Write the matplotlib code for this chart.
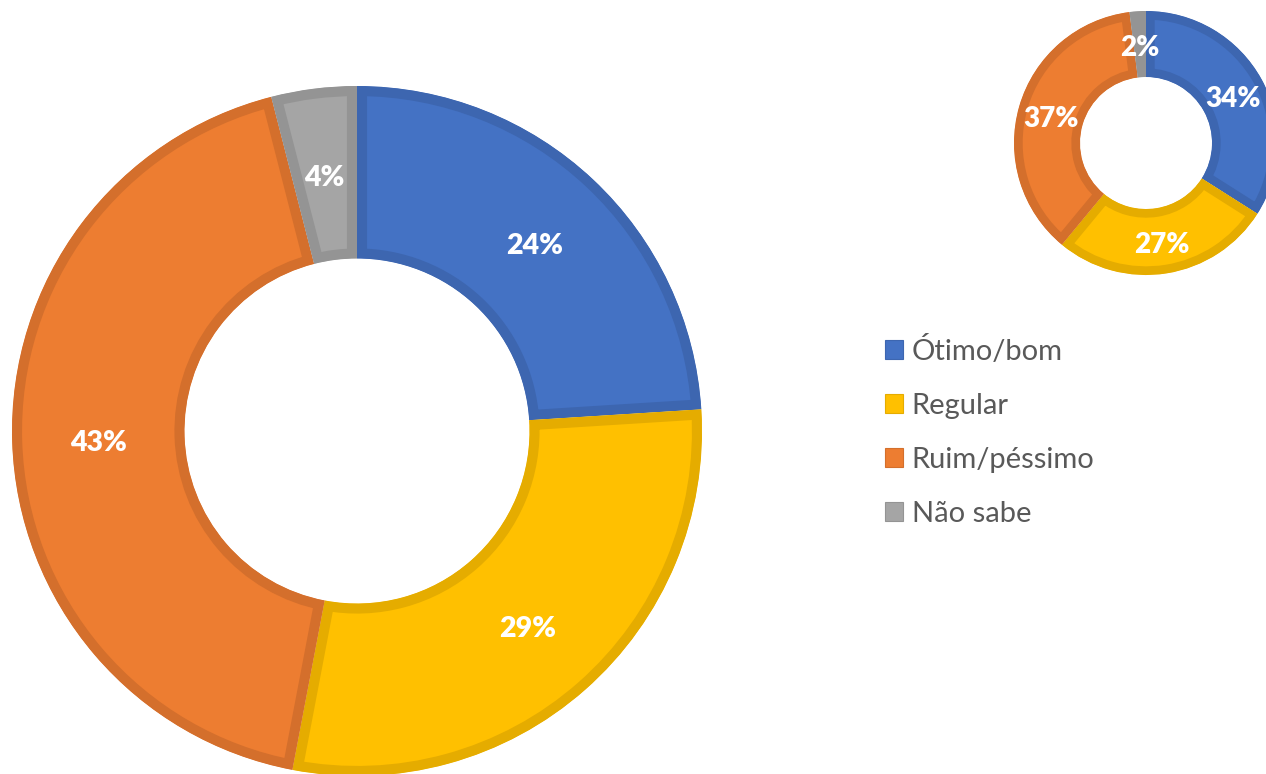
import matplotlib
matplotlib.use("Agg")
import matplotlib.pyplot as plt
from matplotlib.patches import Rectangle
from matplotlib.transforms import ScaledTranslation

categories = ["Ótimo/bom", "Regular", "Ruim/péssimo", "Não sabe"]
big_values = [24, 29, 43, 4]
small_values = [34, 27, 37, 2]

fill_colors = ["#4472C4", "#FFC000", "#ED7D31", "#A5A5A5"]
edge_colors = ["#3D66B0", "#E5AC00", "#D46F2C", "#949494"]

W, H = 1266, 774
fig = plt.figure(figsize=(W / 100, H / 100), dpi=100)
ax = fig.add_axes([0, 0, 1, 1])

all_wedges = []
all_texts = []

def donut(values, center, radius, lw, fs):
    wedges, texts, autotexts = ax.pie(
        values, colors=fill_colors, startangle=90, counterclock=False,
        center=center, radius=radius, autopct="%.0f%%", pctdistance=0.75,
        wedgeprops=dict(width=radius * 0.5, linewidth=lw),
        textprops=dict(color="white", fontsize=fs, fontweight="heavy", family="Lato"),
    )
    for w, ec in zip(wedges, edge_colors):
        w.set_edgecolor(ec)
    all_wedges.extend(wedges)
    all_texts.extend(autotexts)

donut(big_values, (357, H - 431), 345, 14.5, 20.5)
donut(small_values, (1146, H - 143), 132, 12.5, 20)

ax.set_xlim(0, W)
ax.set_ylim(0, H)
ax.set_aspect("equal")
ax.axis("off")

# clip each wedge's border to the wedge itself so the stroke lies inside
for w in all_wedges:
    w.set_clip_on(True)
    w.set_clip_path(w.get_path(), w.get_transform())

shift = ScaledTranslation(0, -4 / 100, fig.dpi_scale_trans)
for t in all_texts:
    t.set_transform(t.get_transform() + shift)

handles = [Rectangle((0, 0), 1, 1, facecolor=fc, edgecolor=ec, linewidth=0.8)
           for fc, ec in zip(fill_colors, edge_colors)]
leg = ax.legend(handles, categories, loc="upper left",
                bbox_to_anchor=(885 / W, 1 - 336 / H), frameon=False,
                prop=dict(family="Lato", size=21), labelcolor="#595959",
                handlelength=0.62, handleheight=0.62, handletextpad=0.3,
                labelspacing=0.96, borderpad=0, borderaxespad=0)

fig.savefig("out.png", dpi=100)
